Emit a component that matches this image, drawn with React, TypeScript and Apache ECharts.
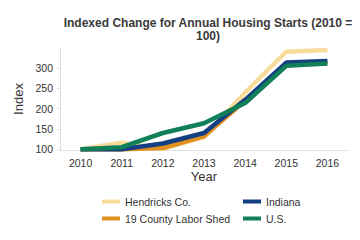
import React, { useEffect, useRef } from "react";
import * as echarts from "echarts";

const years = ["2010", "2011", "2012", "2013", "2014", "2015", "2016"];
const hendricks = [100, 116, 101, 130, 240, 341, 345];
const laborShed = [100, 100, 103, 132, 220, 312, 315];
const indiana = [100, 100, 114, 140, 222, 314, 318];
const us = [100, 105, 140, 164, 214, 306, 312];
const yTicks = [100, 150, 200, 250, 300];

const titleText = "Indexed Change for Annual Housing Starts (2010 =\n100)";
const FONT = "'Liberation Sans', Arial, sans-serif";

export default function App() {
  const ref = useRef<HTMLDivElement>(null);
  useEffect(() => {
    if (!ref.current) return;
    document.body.style.margin = "0";
    const chart = echarts.init(ref.current, undefined, { renderer: "svg" });
    const mk = (name: string, data: number[], color: string, z: number) => ({
      name,
      type: "line",
      data,
      symbol: "none",
      z,
      lineStyle: { color, width: 4.5 },
      itemStyle: { color },
    });
    const legendCommon = {
      orient: "vertical",
      top: 196,
      padding: 0,
      itemWidth: 18,
      itemHeight: 4,
      itemGap: 6,
      icon: "rect",
      textStyle: { fontSize: 10.5, color: "#333", fontFamily: FONT },
    };
    chart.setOption({
      animation: false,
      backgroundColor: "#fff",
      graphic: [
        {
          type: "text",
          x: 208,
          y: 16,
          style: {
            text: titleText,
            textAlign: "center",
            fill: "#3a3a3a",
            font: `bold 12px ${FONT}`,
            lineHeight: 13,
          },
        },
      ],
      grid: { left: 60, right: 12, top: 48, height: 102 },
      xAxis: {
        type: "category",
        data: years,
        boundaryGap: true,
        name: "Year",
        nameLocation: "middle",
        nameGap: 20,
        nameTextStyle: { fontSize: 13, color: "#333", fontFamily: FONT },
        axisLine: { lineStyle: { color: "#e0e0e0" } },
        axisTick: { alignWithLabel: true, length: 3, lineStyle: { color: "#e0e0e0" } },
        axisLabel: { color: "#333", fontSize: 10.5, fontFamily: FONT, margin: 7 },
        splitLine: { show: false },
      },
      yAxis: {
        type: "value",
        min: 98,
        max: 350,
        name: "Index",
        nameLocation: "middle",
        nameGap: 29,
        nameTextStyle: { fontSize: 13, color: "#333", fontFamily: FONT },
        axisLine: { show: true, lineStyle: { color: "#e0e0e0" } },
        axisTick: { show: true, length: 3, customValues: yTicks, lineStyle: { color: "#e0e0e0" } },
        axisLabel: { color: "#333", fontSize: 10.5, fontFamily: FONT, margin: 7, customValues: yTicks },
        splitLine: { show: false },
      },
      legend: [
        { ...legendCommon, data: ["Hendricks Co.", "19 County Labor Shed"], left: 102 },
        { ...legendCommon, data: ["Indiana", "U.S."], left: 243 },
      ],
      series: [
        mk("Hendricks Co.", hendricks, "#f8dc9c", 1),
        mk("19 County Labor Shed", laborShed, "#e0901f", 2),
        mk("Indiana", indiana, "#143f80", 3),
        mk("U.S.", us, "#117f58", 4),
      ],
    });
    return () => chart.dispose();
  }, []);
  return <div ref={ref} style={{ width: 360, height: 240 }} />;
}
